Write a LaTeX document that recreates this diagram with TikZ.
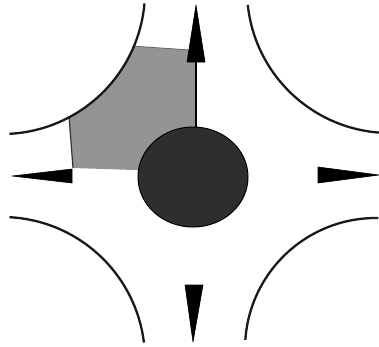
\documentclass[tikz,border=0pt]{standalone}
\usetikzlibrary{shapes.geometric}
\begin{document}
\begin{tikzpicture}[x=1pt,y=-1pt,
  curb/.style={line width=2.3pt,black!90},
  wedge/.style={fill=black,draw=black,line width=0.6pt,line join=round}]
\useasboundingbox (0,0) rectangle (379,346);
% grey zone
\fill[black!42] (2,-9) ++(22.7:143) -- (191,50) -- (196,58) -- (196,172) -- (73,168) -- (69.1,117.3)
  arc[start angle=62,end angle=22.7,radius=143] -- cycle;
\draw[line width=1.2pt,black!80] (69.1,117.3) -- (73,168);
\draw[line width=0.8pt,black!60] (2,-9) ++(22.7:143) -- (190,50);
% curbs
\draw[curb] (2,-9) ++(5:143) arc[start angle=5,end angle=87,radius=143];
\draw[curb] (390,-10) ++(174:143) arc[start angle=174,end angle=93,radius=143];
\draw[curb] (2,360) ++(273:143) arc[start angle=273,end angle=353,radius=143];
\draw[curb] (376,349) ++(184:131) arc[start angle=184,end angle=271,radius=131];
% central island
\node[ellipse,minimum width=110pt,minimum height=100pt,inner sep=0pt,
  fill=black!82,draw=black,line width=1pt] (E) at (193,177) {};
% wedges
\coordinate (T) at (196,62);
\draw[wedge] (196,5) -- (187,62) -- (205,62) -- cycle;
\draw[line width=1.5pt] (T) -- (E.north -| T);
\draw[wedge] (12,176) -- (72,169) -- (72,183) -- cycle;
\draw[wedge] (379,175) -- (318,167) -- (318,183) -- cycle;
\draw[wedge] (193,342) -- (185,285) -- (203,285) -- cycle;
\end{tikzpicture}
\end{document}
